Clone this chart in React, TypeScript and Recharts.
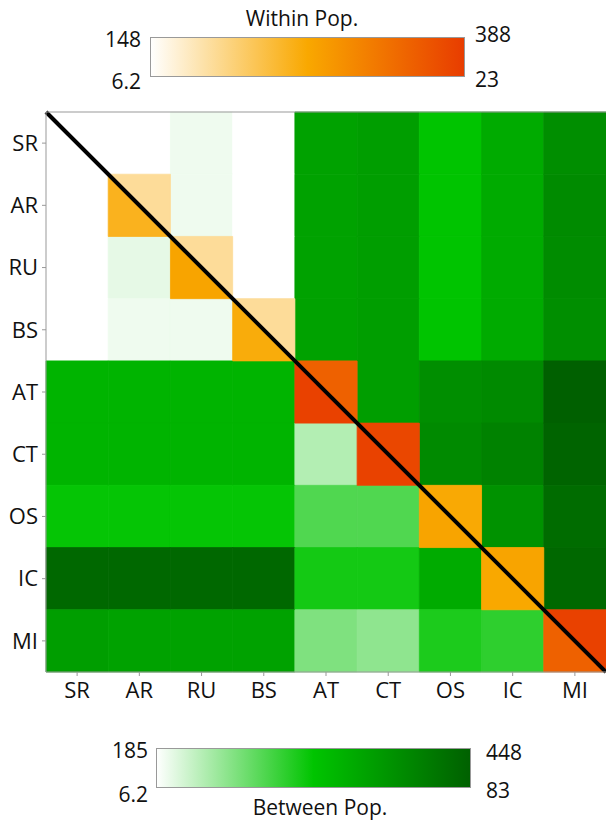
import React from "react";
import {
  ScatterChart,
  Scatter,
  XAxis,
  YAxis,
  ReferenceArea,
  ReferenceLine,
} from "recharts";

const LABELS = ["SR", "AR", "RU", "BS", "AT", "CT", "OS", "IC", "MI"];

// within-population values: upper and lower triangles of the diagonal cells
const WITHIN_UPPER = [148, 196, 196, 196, 347, 376, 266, 273, 383];
const WITHIN_LOWER = [148, 254, 273, 263, 383, 381, 273, 268, 347];

// between-population values, rows top to bottom, null on the diagonal
const BETWEEN_SR = [null, 185, 193, 185, 361, 366, 317, 349, 388];
const BETWEEN_AR = [185, null, 193, 185, 361, 366, 317, 349, 392];
const BETWEEN_RU = [185, 198, null, 185, 361, 366, 317, 349, 390];
const BETWEEN_BS = [185, 193, 193, null, 361, 366, 317, 349, 388];
const BETWEEN_AT = [338, 338, 338, 338, null, 366, 388, 393, 448];
const BETWEEN_CT = [338, 338, 338, 338, 224, null, 393, 403, 443];
const BETWEEN_OS = [314, 314, 314, 314, 275, 275, null, 382, 432];
const BETWEEN_IC = [437, 437, 437, 437, 306, 306, 349, null, 437];
const BETWEEN_MI = [366, 361, 361, 361, 251, 243, 302, 293, null];

const BETWEEN = [
  BETWEEN_SR, BETWEEN_AR, BETWEEN_RU, BETWEEN_BS, BETWEEN_AT,
  BETWEEN_CT, BETWEEN_OS, BETWEEN_IC, BETWEEN_MI,
];

const WITHIN_RANGE = [148, 388];
const BETWEEN_RANGE = [185, 448];

const ORANGE_STOPS: [number, string][] = [
  [0, "#ffffff"],
  [0.5, "#f9a800"],
  [1, "#e83c00"],
];
const GREEN_STOPS: [number, string][] = [
  [0, "#ffffff"],
  [0.5, "#00c400"],
  [1, "#006000"],
];

const FONT = "'Open Sans', 'DejaVu Sans', sans-serif";

function hex(c: string) {
  return [1, 3, 5].map((i) => parseInt(c.slice(i, i + 2), 16));
}

function colorAt(stops: [number, string][], t: number) {
  t = Math.max(0, Math.min(1, t));
  for (let i = 1; i < stops.length; i++) {
    const [t1, c1] = stops[i];
    const [t0, c0] = stops[i - 1];
    if (t <= t1) {
      const f = (t - t0) / (t1 - t0);
      const a = hex(c0);
      const b = hex(c1);
      const rgb = a.map((v, k) => Math.round(v + (b[k] - v) * f));
      return `rgb(${rgb.join(",")})`;
    }
  }
  return stops[stops.length - 1][1];
}

const withinColor = (v: number) =>
  colorAt(ORANGE_STOPS, (v - WITHIN_RANGE[0]) / (WITHIN_RANGE[1] - WITHIN_RANGE[0]));
const betweenColor = (v: number) =>
  colorAt(GREEN_STOPS, (v - BETWEEN_RANGE[0]) / (BETWEEN_RANGE[1] - BETWEEN_RANGE[0]));

const centers = LABELS.map((_, i) => i + 0.5);

const upperTri = (fill: string) => (p: any) => (
  <polygon
    points={`${p.x},${p.y} ${p.x + p.width},${p.y} ${p.x + p.width},${p.y + p.height}`}
    fill={fill}
    stroke={fill}
    strokeWidth={0.8}
  />
);
const lowerTri = (fill: string) => (p: any) => (
  <polygon
    points={`${p.x},${p.y} ${p.x},${p.y + p.height} ${p.x + p.width},${p.y + p.height}`}
    fill={fill}
    stroke={fill}
    strokeWidth={0.8}
  />
);

function ColorBar({
  id, stops, left, top, width, height,
}: {
  id: string; stops: [number, string][]; left: number; top: number; width: number; height: number;
}) {
  return (
    <svg style={{ position: "absolute", left, top }} width={width} height={height}>
      <defs>
        <linearGradient id={id} x1="0" x2="1" y1="0" y2="0">
          {stops.map(([o, c]) => (
            <stop key={o} offset={o} stopColor={c} />
          ))}
        </linearGradient>
      </defs>
      <rect x={0.5} y={0.5} width={width - 1} height={height - 1} fill={`url(#${id})`} stroke="#999" />
    </svg>
  );
}

const txt = (s: string, left: number, top: number, align: "left" | "right" | "center" = "left") => (
  <div
    style={{
      position: "absolute",
      top,
      left: align === "left" ? left : left - 100,
      width: align === "left" ? undefined : align === "center" ? 200 : 100,
      textAlign: align,
      fontFamily: FONT,
      fontSize: 21,
      lineHeight: "24px",
      color: "#111",
      whiteSpace: "nowrap",
    }}
  >
    {s}
  </div>
);

export default function App() {
  const cells: React.ReactNode[] = [];
  BETWEEN.forEach((row, r) =>
    row.forEach((v, c) => {
      if (v == null) return;
      const fill = betweenColor(v);
      cells.push(
        <ReferenceArea
          key={`b-${r}-${c}`}
          x1={c}
          x2={c + 1}
          y1={r}
          y2={r + 1}
          fill={fill}
          fillOpacity={1}
          stroke={fill}
          strokeWidth={0.8}
        />
      );
    })
  );
  LABELS.forEach((_, i) => {
    cells.push(
      <ReferenceArea
        key={`wu-${i}`}
        x1={i}
        x2={i + 1}
        y1={i}
        y2={i + 1}
        shape={upperTri(withinColor(WITHIN_UPPER[i]))}
      />
    );
    cells.push(
      <ReferenceArea
        key={`wl-${i}`}
        x1={i}
        x2={i + 1}
        y1={i}
        y2={i + 1}
        shape={lowerTri(withinColor(WITHIN_LOWER[i]))}
      />
    );
  });

  return (
    <div style={{ position: "absolute", left: 0, top: 0, width: 606, height: 823, background: "#fff" }}>
      {txt("Within Pop.", 302, 6, "center")}
      {txt("148", 141, 27, "right")}
      {txt("6.2", 141, 69, "right")}
      {txt("388", 475, 22, "left")}
      {txt("23", 475, 67, "left")}
      <ColorBar id="within" stops={ORANGE_STOPS} left={150} top={37} width={315} height={40} />

      <div style={{ position: "absolute", left: 0, top: 0 }}>
        <ScatterChart width={606} height={712} margin={{ top: 112, right: 0, bottom: 0, left: 0 }}>
          <XAxis
            type="number"
            dataKey="x"
            domain={[0, 9]}
            ticks={centers}
            tickFormatter={(v: number) => LABELS[Math.floor(v)]}
            height={40}
            tickSize={4}
            tickMargin={6}
            stroke="#999"
            tick={{ fill: "#111", fontSize: 22, fontFamily: FONT }}
            interval={0}
          />
          <YAxis
            type="number"
            dataKey="y"
            domain={[0, 9]}
            reversed
            ticks={centers}
            tickFormatter={(v: number) => LABELS[Math.floor(v)]}
            width={46}
            tickSize={4}
            tickMargin={4}
            stroke="#999"
            tick={{ fill: "#111", fontSize: 22, fontFamily: FONT }}
            interval={0}
          />
          {cells}
          <ReferenceLine
            segment={[{ x: 0, y: 0 }, { x: 9, y: 9 }]}
            stroke="#000"
            strokeWidth={4}
          />
          <ReferenceLine y={0} stroke="#999" strokeWidth={1} />
          <Scatter
            data={centers.map((c) => ({ x: c, y: c }))}
            shape={() => <g />}
            isAnimationActive={false}
          />
        </ScatterChart>
      </div>

      {txt("185", 148, 738, "right")}
      {txt("6.2", 148, 782, "right")}
      {txt("448", 486, 740, "left")}
      {txt("83", 486, 778, "left")}
      <ColorBar id="between" stops={GREEN_STOPS} left={156} top={748} width={315} height={40} />
      {txt("Between Pop.", 320, 795, "center")}
    </div>
  );
}
